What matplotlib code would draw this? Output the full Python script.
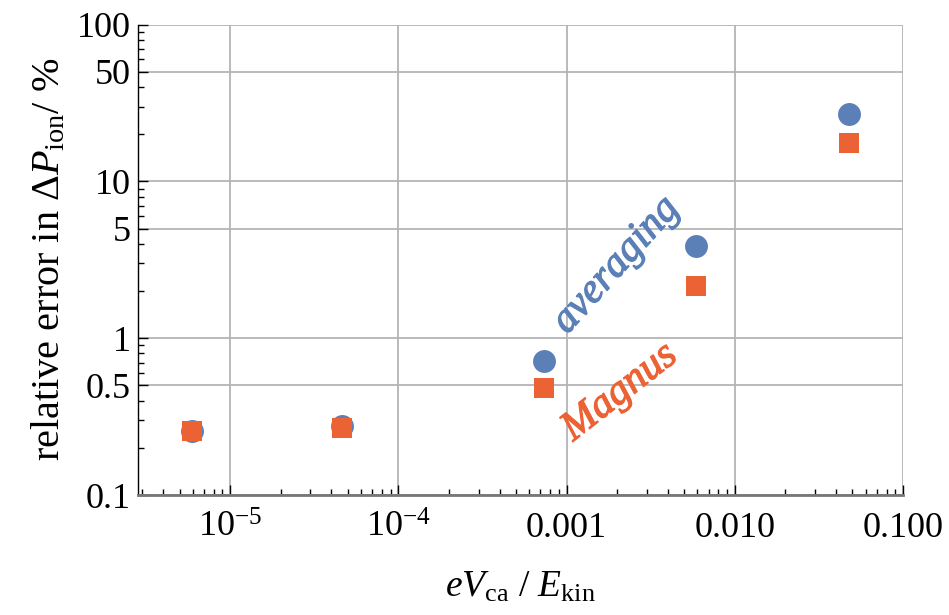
import matplotlib
matplotlib.use("Agg")
import matplotlib.pyplot as plt
import matplotlib.patheffects as pe
from matplotlib.ticker import FixedLocator, LogLocator, NullFormatter, FixedFormatter

plt.rcParams['font.family'] = ['Liberation Serif', 'DejaVu Serif']
plt.rcParams['mathtext.fontset'] = 'custom'
plt.rcParams['mathtext.rm'] = 'Liberation Serif'
plt.rcParams['mathtext.it'] = 'Liberation Serif:italic'

# data
x_vals = [5.9e-6, 4.6e-5, 7.3e-4, 5.9e-3, 4.8e-2]
averaging = [0.255, 0.275, 0.72, 3.9, 27.0]
magnus = [0.258, 0.267, 0.485, 2.15, 17.5]

x_ticks = [1e-5, 1e-4, 1e-3, 1e-2, 1e-1]
x_ticklabels = [r'$10^{-5}$', r'$10^{-4}$', '0.001', '0.010', '0.100']
y_ticks = [0.1, 0.5, 1, 5, 10, 50, 100]
y_ticklabels = ['0.1', '0.5', '1', '5', '10', '50', '100']

blue = '#5B80B8'
orange = '#EB6235'

fig = plt.figure(figsize=(9.49, 6.15), dpi=100)
ax = fig.add_axes([0.1454, 0.195, 0.806, 0.765])
ax.set_xscale('log')
ax.set_yscale('log')
ax.set_xlim(2.83e-6, 0.1)
ax.set_ylim(0.1, 100)

ax.plot(x_vals, averaging, 'o', color=blue, markersize=16.5, markeredgewidth=0, zorder=3, clip_on=False)
ax.plot(x_vals, magnus, 's', color=orange, markersize=15, markeredgewidth=0, zorder=4, clip_on=False)

ax.xaxis.set_major_locator(FixedLocator(x_ticks))
ax.xaxis.set_major_formatter(FixedFormatter(x_ticklabels))
ax.xaxis.set_minor_locator(LogLocator(base=10, subs=[2, 3, 4, 5, 6, 7, 8, 9], numticks=20))
ax.xaxis.set_minor_formatter(NullFormatter())
ax.yaxis.set_major_locator(FixedLocator(y_ticks))
ax.yaxis.set_major_formatter(FixedFormatter(y_ticklabels))
ax.yaxis.set_minor_locator(FixedLocator([0.2, 0.3, 0.4, 0.6, 0.7, 0.8, 0.9, 2, 3, 4, 6, 7, 8, 9, 20, 30, 40, 60, 70, 80, 90]))
ax.yaxis.set_minor_formatter(NullFormatter())

ax.grid(True, which='major', color='#b4b4b4', linewidth=1.3)
ax.set_axisbelow(True)

for s in ['top', 'right']:
    ax.spines[s].set_visible(False)
ax.spines['left'].set_color('black')
ax.spines['left'].set_linewidth(1.0)
ax.spines['bottom'].set_color('#777777')
ax.spines['bottom'].set_linewidth(2.0)

ax.tick_params(which='both', direction='in', color='black', width=1.0)
ax.tick_params(which='major', length=7)
ax.tick_params(which='minor', length=4)
ax.tick_params(axis='x', which='major', labelsize=26, pad=12)
ax.tick_params(axis='y', which='major', labelsize=26, pad=5)

ax.set_ylabel(r'relative error in $\Delta P_{\mathrm{ion}}$/ %', fontsize=29, labelpad=6)
ax.set_xlabel(r'$eV_{\mathrm{ca}}$ / $E_{\mathrm{kin}}$', fontsize=27, labelpad=18)

ax.text(2.0e-3, 2.9, r'$\mathit{averaging}$', color=blue, fontsize=30,
        rotation=48, ha='center', va='center', rotation_mode='anchor',
        path_effects=[pe.withStroke(linewidth=0.9, foreground=blue)])
ax.text(2.1e-3, 0.45, r'$\mathit{Magnus}$', color=orange, fontsize=30,
        rotation=38, ha='center', va='center', rotation_mode='anchor',
        path_effects=[pe.withStroke(linewidth=0.9, foreground=orange)])

fig.savefig('out.png', dpi=100)
